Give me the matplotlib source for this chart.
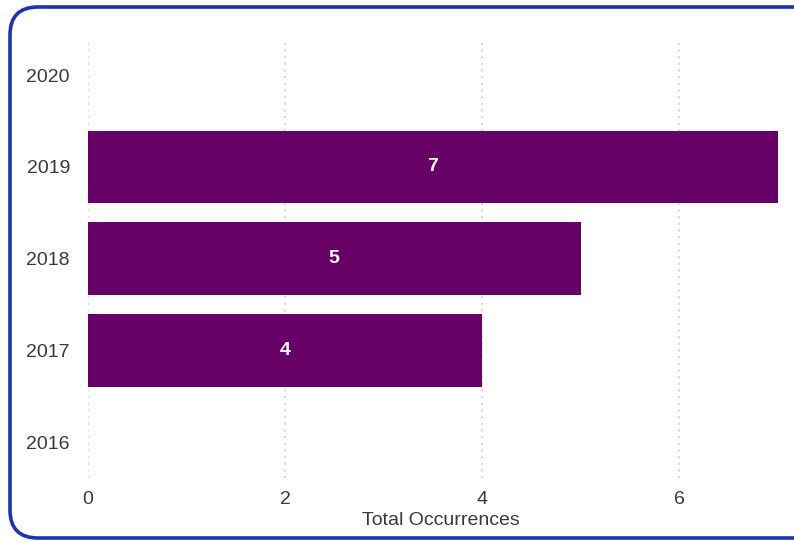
import matplotlib
matplotlib.use("Agg")
import matplotlib.pyplot as plt
from matplotlib.patches import FancyBboxPatch

years = ["2016", "2017", "2018", "2019", "2020"]
occurrences = [0, 4, 5, 7, 0]

bar_color = "#660066"
text_color = "#3a3a3a"
plt.rcParams["font.family"] = ["Liberation Sans", "DejaVu Sans"]

W, H = 794, 542
fig = plt.figure(figsize=(W / 100, H / 100), dpi=100)

# rounded card border, right side runs off the image
card = FancyBboxPatch((10 / W, 4 / H), 820 / W, 531 / H,
                      boxstyle="round,pad=0,rounding_size=%f" % (28 / W),
                      mutation_aspect=W / H,
                      transform=fig.transFigure, facecolor="none",
                      edgecolor="#1f33b0", linewidth=2.6, zorder=5)
fig.patches.append(card)

ax = fig.add_axes([88 / W, (H - 478) / H, (W - 88) / W, 436 / H])
ypos = list(range(len(years)))
bars = ax.barh(ypos, occurrences, height=0.79, color=bar_color, zorder=3)

for b, v in zip(bars, occurrences):
    if v > 0:
        ax.text(v / 2, b.get_y() + b.get_height() / 2, str(v), ha="center", va="center",
                color="white", fontsize=14, fontweight="bold", zorder=4)

ax.set_xlim(0, (W - 88) / 98.5)
ax.set_ylim(-0.39, 4.36)
ax.set_xticks([0, 2, 4, 6])
ax.set_yticks(ypos)
ax.set_yticklabels(years)
ax.tick_params(length=0, labelsize=14, colors=text_color)
ax.tick_params(axis="x", pad=9)
ax.tick_params(axis="y", pad=13)
ax.grid(axis="x", linestyle=(0, (1, 3)), color="#c8c8c8", linewidth=1.2, zorder=0)
for s in ax.spines.values():
    s.set_visible(False)
ax.set_xlabel("Total Occurrences", fontsize=14, color=text_color, labelpad=3)

fig.savefig("out.png", dpi=100)
